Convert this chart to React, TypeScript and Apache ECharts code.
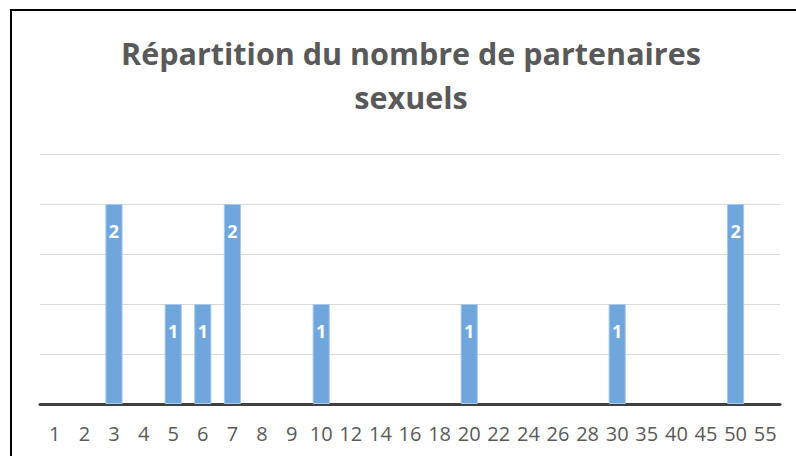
import React, { useEffect, useRef } from "react";
import * as echarts from "echarts";

const categories = ["1","2","3","4","5","6","7","8","9","10","12","14","16","18","20","22","24","26","28","30","35","40","45","50","55"];
const counts: (number | null)[] = [null,null,2,null,1,1,2,null,null,1,null,null,null,null,1,null,null,null,null,1,null,null,null,2,null];
const titleText = "Répartition du nombre de partenaires\nsexuels";

export default function App() {
  const ref = useRef<HTMLDivElement>(null);
  useEffect(() => {
    if (!ref.current) return;
    const chart = echarts.init(ref.current, undefined, { renderer: "svg" });
    chart.setOption({
      animation: false,
      backgroundColor: "#ffffff",
      title: {
        text: titleText,
        left: 406,
        top: 26,
        textAlign: "center",
        textStyle: {
          fontFamily: "Open Sans",
          fontWeight: "bold",
          fontSize: 30.5,
          lineHeight: 44,
          color: "#595959",
        },
      },
      graphic: [
        { type: "line", shape: { x1: 10, y1: 10, x2: 796, y2: 10 }, style: { stroke: "#000", lineWidth: 2 } },
        { type: "line", shape: { x1: 11, y1: 10, x2: 11, y2: 456 }, style: { stroke: "#000", lineWidth: 2 } },
      ],
      grid: { left: 40, right: 16, top: 154, bottom: 52 },
      xAxis: {
        type: "category",
        data: categories,
        axisLine: { lineStyle: { color: "#404040", width: 3 } },
        axisTick: { show: false },
        axisLabel: {
          interval: 0,
          margin: 19,
          fontFamily: "Open Sans",
          fontSize: 20,
          color: "#595959",
        },
      },
      yAxis: {
        type: "value",
        min: 0,
        max: 2.5,
        interval: 0.5,
        axisLabel: { show: false },
        axisLine: { show: false },
        axisTick: { show: false },
        splitLine: { lineStyle: { color: "#d9d9d9", width: 1 } },
      },
      series: [
        {
          type: "bar",
          data: counts,
          barWidth: "58%",
          itemStyle: { color: "#6fa6dc", borderColor: "#a9c9ea", borderWidth: 1 },
          label: {
            show: true,
            position: "insideTop",
            distance: 18,
            fontFamily: "Open Sans",
            fontWeight: "bold",
            fontSize: 18,
            color: "#ffffff",
          },
        },
      ],
    });
    return () => chart.dispose();
  }, []);
  return <div ref={ref} style={{ position: "fixed", left: 0, top: 0, width: 796, height: 456 }} />;
}
